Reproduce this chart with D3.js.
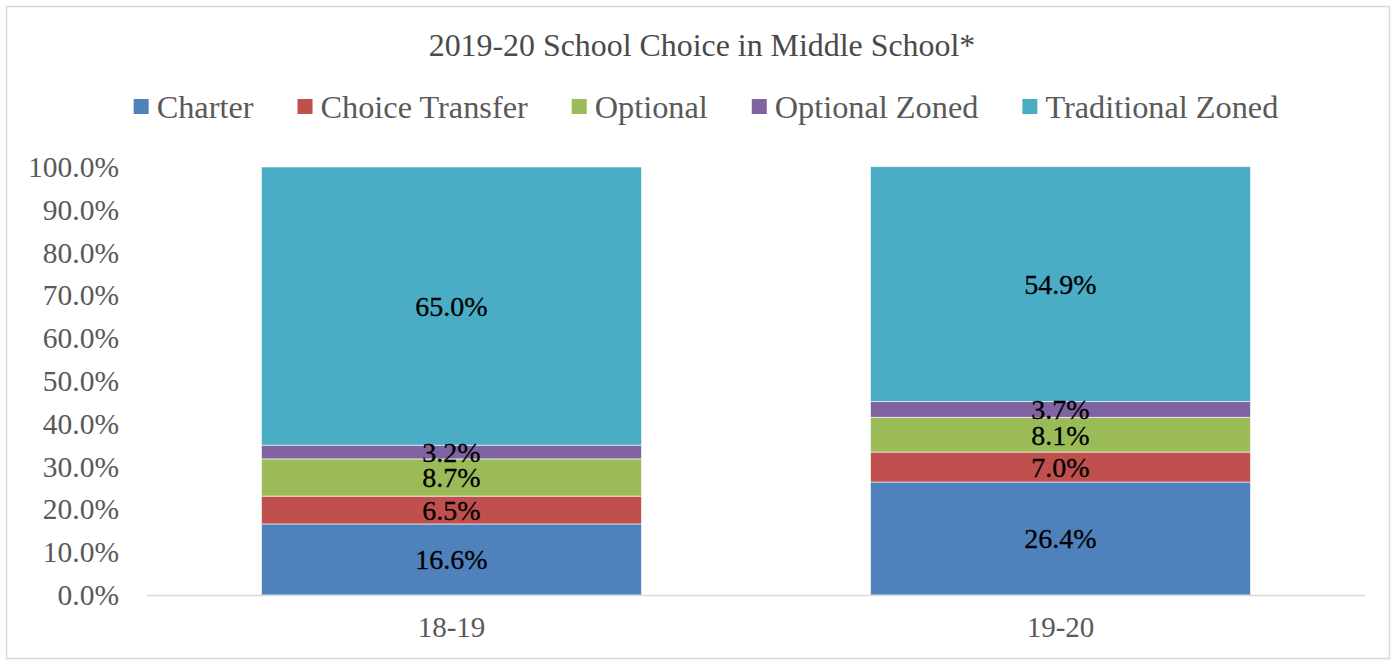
<!DOCTYPE html>
<html>
<head>
<meta charset="utf-8">
<script src="https://cdn.jsdelivr.net/npm/d3@7"></script>
<style>
  html, body { margin: 0; padding: 0; background: #fff; }
  svg { display: block; font-family: "Liberation Serif", "Times New Roman", serif; }
</style>
</head>
<body>
<svg id="chart" width="1393" height="664"></svg>
<script>
const title = "2019-20 School Choice in Middle School*";
const categories = ["18-19", "19-20"];
const seriesNames = ["Charter", "Choice Transfer", "Optional", "Optional Zoned", "Traditional Zoned"];
const seriesColors = ["#4F81BD", "#C0504D", "#9BBB59", "#8064A2", "#4BACC6"];
const charter = [16.6, 26.4];
const choiceTransfer = [6.5, 7.0];
const optional = [8.7, 8.1];
const optionalZoned = [3.2, 3.7];
const traditionalZoned = [65.0, 54.9];
const yTicks = [0, 10, 20, 30, 40, 50, 60, 70, 80, 90, 100];

const seriesValues = [charter, choiceTransfer, optional, optionalZoned, traditionalZoned];
const rows = categories.map((c, i) => {
  const r = { cat: c };
  seriesNames.forEach((s, j) => r[s] = seriesValues[j][i]);
  return r;
});

const svg = d3.select("#chart");

// border
svg.append("rect").attr("x", 6.5).attr("y", 6.5).attr("width", 1383).attr("height", 652)
  .attr("fill", "#fff").attr("stroke", "#D9D9D9").attr("stroke-width", 1.5);

const plot = { left: 147, right: 1365, top: 167, bottom: 595 };

const x = d3.scaleBand().domain(categories).range([plot.left, plot.right])
  .paddingInner(0.376).paddingOuter(0.188);
const y = d3.scaleLinear().domain([0, 100]).range([plot.bottom, plot.top]);

const stacked = d3.stack().keys(seriesNames)(rows);

const g = svg.append("g");
stacked.forEach((layer, j) => {
  g.selectAll(null).data(layer).enter().append("rect")
    .attr("x", d => x(d.data.cat))
    .attr("width", x.bandwidth())
    .attr("y", d => y(d[1]))
    .attr("height", d => y(d[0]) - y(d[1]))
    .attr("fill", seriesColors[j])
    .attr("stroke", "#ffffff").attr("stroke-opacity", 0.6).attr("stroke-width", 1);
});

// data labels
stacked.forEach((layer, j) => {
  g.selectAll(null).data(layer).enter().append("text")
    .attr("x", d => x(d.data.cat) + x.bandwidth() / 2)
    .attr("y", d => y((d[0] + d[1]) / 2))
    .attr("dy", "0.35em")
    .attr("text-anchor", "middle")
    .attr("font-size", 28)
    .attr("fill", "#000")
    .attr("stroke", "#000").attr("stroke-width", 0.3)
    .text(d => d3.format(".1f")(d.data[seriesNames[j]]) + "%");
});

// y axis (labels only)
const yAxis = d3.axisLeft(y).tickValues(yTicks).tickSize(0).tickPadding(0)
  .tickFormat(d => d3.format(".1f")(d) + "%");
const yg = svg.append("g").attr("transform", `translate(119,0)`).call(yAxis);
yg.select(".domain").remove();
yg.selectAll("text").attr("font-size", 29.5).attr("fill", "#595959")
  .attr("font-family", "Liberation Serif, serif");

// x axis
const xAxis = d3.axisBottom(x).tickSize(0).tickPadding(0);
const xg = svg.append("g").attr("transform", `translate(0,${plot.bottom})`).call(xAxis);
xg.select(".domain").remove();
xg.selectAll("text").attr("font-size", 29).attr("fill", "#595959")
  .attr("font-family", "Liberation Serif, serif").attr("dy", "1.05em").attr("y", 12);
svg.append("line").attr("x1", plot.left).attr("x2", plot.right)
  .attr("y1", plot.bottom + 0.5).attr("y2", plot.bottom + 0.5)
  .attr("stroke", "#D9D9D9").attr("stroke-width", 1.5);

// title
svg.append("text").attr("x", 702).attr("y", 56).attr("text-anchor", "middle")
  .attr("font-size", 31.9).attr("fill", "#4a4a4a").text(title);

// legend
const lg = svg.append("g");
const items = lg.selectAll("g").data(seriesNames).enter().append("g");
items.append("rect").attr("width", 15).attr("height", 15).attr("y", -8)
  .attr("fill", (d, i) => seriesColors[i]);
items.append("text").attr("x", 23).attr("y", 0).attr("dy", "0.35em")
  .attr("font-size", 32.3).attr("fill", "#595959").text(d => d);
let cx = 0;
const gap = 44;
items.each(function() {
  const t = d3.select(this).select("text").node().getComputedTextLength();
  d3.select(this).attr("transform", `translate(${cx},0)`);
  cx += 23 + t + gap;
});
const totalW = cx - gap;
lg.attr("transform", `translate(${706 - totalW / 2},107)`);
</script>
</body>
</html>
